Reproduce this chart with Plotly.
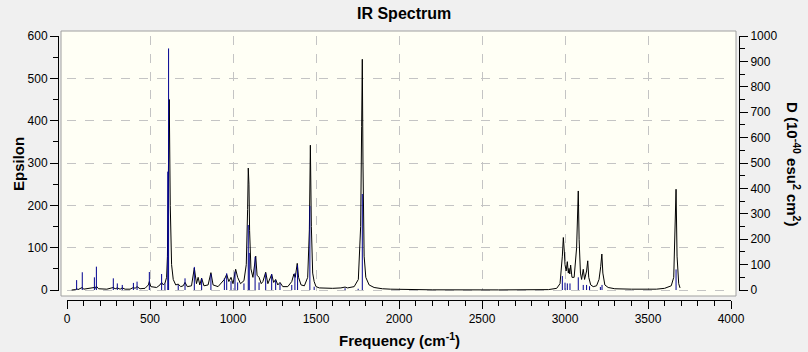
import plotly.graph_objects as go

# ---- Data ----
# Broadened spectrum curve (left axis, Epsilon)
curve_freq = [28, 50, 58, 66, 92, 100, 165, 170, 177, 190, 240, 279, 290, 303, 320, 333, 350, 380,
              400, 410, 422, 440, 470, 490, 496, 505, 540, 560, 570, 580, 590, 600, 605, 612, 616,
              622, 630, 640, 655, 670, 685, 700, 711, 725, 750, 767, 780, 790, 800, 811, 825, 850,
              867, 880, 910, 948, 962, 975, 988, 1000, 1016, 1028, 1045, 1066, 1080, 1088, 1092,
              1096, 1100, 1108, 1120, 1137, 1145, 1157, 1170, 1180, 1197, 1210, 1233, 1245, 1257,
              1270, 1283, 1300, 1330, 1354, 1367, 1375, 1387, 1395, 1410, 1430, 1450, 1460, 1466,
              1472, 1480, 1489, 1500, 1520, 1560, 1600, 1650, 1675, 1690, 1730, 1755, 1769, 1775,
              1779, 1783, 1790, 1800, 1820, 1850, 1900, 1950, 2000, 2100, 2200, 2600, 2900, 2950,
              2970, 2984, 2990, 2996, 3000, 3007, 3014, 3020, 3024, 3029, 3034, 3042, 3055, 3070,
              3076, 3080, 3085, 3093, 3100, 3110, 3118, 3124, 3130, 3137, 3143, 3155, 3170, 3190,
              3205, 3215, 3222, 3228, 3240, 3260, 3300, 3400, 3550, 3600, 3640, 3655, 3663, 3669,
              3675, 3685, 3693]
curve_eps = [0, 1, 4, 1, 6, 2, 6, 4, 9, 3, 2, 6, 3, 5, 2, 5, 2, 2,
             6, 4, 8, 3, 4, 12, 20, 8, 6, 12, 18, 12, 16, 30, 79, 340, 450,
             200, 60, 25, 12, 14, 8, 10, 18, 8, 10, 52, 15, 30, 12, 28, 10, 12,
             41, 12, 8, 25, 37, 20, 30, 15, 49, 30, 15, 22, 60, 190, 288,
             250, 140, 50, 30, 80, 35, 30, 15, 20, 42, 15, 37, 18, 25,
             12, 18, 8, 8, 20, 38, 30, 63, 30, 12, 10, 30, 142, 342,
             150, 40, 20, 8, 5, 4, 4, 5, 7, 5, 8, 25, 150, 386,
             545, 300, 80, 30, 12, 6, 3, 2, 1.5, 1, 0.5, 0.3, 1, 4,
             15, 80, 124, 90, 60, 45, 67, 40, 51, 38, 59, 30, 30, 100,
             187, 234, 120, 40, 25, 49, 25, 35, 45, 69, 30, 12, 8, 10,
             25, 55, 85, 40, 12, 6, 3, 2, 2, 4, 10, 30, 169, 238,
             80, 15, 5]

# Stick spectrum (right axis, D in 10^-40 esu^2 cm^2)
stick_freq = [58, 92, 165, 177, 279, 303, 333, 400, 422, 496, 570, 590, 607, 612, 670, 711, 767,
              811, 867, 948, 962, 988, 1012, 1028, 1066, 1092, 1098, 1133, 1157, 1197, 1233, 1257,
              1283, 1354, 1373, 1389, 1463, 1489, 1675, 1754, 1779, 2984, 3000, 3014, 3030, 3080,
              3110, 3130, 3148, 3213, 3223, 3669]
stick_D = [39, 70, 50, 92, 46, 26, 20, 28, 33, 71, 63, 26, 466, 951, 20, 46, 91,
           46, 63, 46, 66, 35, 72, 30, 26, 256, 146, 131, 30, 66, 63, 39,
           26, 20, 66, 98, 331, 13, 7, 5, 378, 55, 29, 26, 26, 50,
           20, 20, 15, 12, 20, 81]

x_ticks = [0, 500, 1000, 1500, 2000, 2500, 3000, 3500, 4000]
left_ticks = [0, 100, 200, 300, 400, 500, 600]
right_ticks = [0, 100, 200, 300, 400, 500, 600, 700, 800, 900, 1000]

# ---- Build figure ----
W, H = 808, 352
pl, pr, pt, pb = 58, 739, 31, 300          # paper box in pixels
fx = lambda px: (px - pl) / (pr - pl)
fy = lambda py: (pb - py) / (pb - pt)

sx, sy = [], []
for f, d in zip(stick_freq, stick_D):
    sx += [f, f, None]
    sy += [0, d, None]

fig = go.Figure()
fig.add_trace(go.Scatter(x=curve_freq, y=curve_eps, mode="lines",
                         line=dict(color="black", width=1), yaxis="y", showlegend=False,
                         hoverinfo="skip"))
fig.add_trace(go.Scatter(x=sx, y=sy, mode="lines",
                         line=dict(color="#000090", width=1), yaxis="y2", showlegend=False,
                         hoverinfo="skip"))

font = "Liberation Sans, Arial, sans-serif"
tick_common = dict(ticks="outside", tickcolor="black", tickwidth=1, ticklen=8,
                   showline=True, linecolor="black", linewidth=1,
                   tickfont=dict(family=font, size=12, color="black"),
                   zeroline=False)
grid = dict(showgrid=True, gridcolor="#C4C4C4", gridwidth=1, griddash="dash")

fig.update_layout(
    width=W, height=H,
    margin=dict(l=pl, r=W - pr, t=pt, b=H - pb, pad=0),
    paper_bgcolor="#F0F0F0",
    plot_bgcolor="rgba(0,0,0,0)",
    showlegend=False,
    xaxis=dict(range=[0, 4000], domain=[fx(67), fx(731)], anchor="free", position=0,
               tickvals=x_ticks, ticktext=[str(v) for v in x_ticks],
               minor=dict(dtick=100, ticklen=5, ticks="outside", tickcolor="black",
                          showgrid=False),
               **tick_common, **grid),
    yaxis=dict(range=[-3, 600], domain=[fy(291.3), fy(36)], anchor="free", position=0,
               tickvals=left_ticks, ticktext=[str(v) for v in left_ticks],
               minor=dict(dtick=50, ticklen=5, ticks="outside", tickcolor="black",
                          showgrid=False),
               **tick_common, **grid),
    yaxis2=dict(range=[-5, 1000], overlaying="y", side="right", anchor="free", position=1,
                tickvals=right_ticks, ticktext=[str(v) for v in right_ticks],
                minor=dict(dtick=50, ticklen=5, ticks="outside", tickcolor="black",
                           showgrid=False),
                showgrid=False, **tick_common),
    shapes=[dict(type="rect", xref="paper", yref="paper",
                 x0=fx(61), x1=fx(736), y0=fy(296), y1=fy(31),
                 fillcolor="#FFFFF5", line=dict(color="#A0A0A0", width=1), layer="below")],
    annotations=[
        dict(text="<b>IR Spectrum</b>", xref="paper", yref="paper",
             x=fx(404), y=fy(13), showarrow=False, xanchor="center", yanchor="middle",
             font=dict(family=font, size=16, color="black")),
        dict(text="<b>Epsilon</b>", xref="paper", yref="paper",
             x=fx(18), y=fy(164), showarrow=False, xanchor="center", yanchor="middle",
             textangle=-90, font=dict(family=font, size=15, color="black")),
        dict(text="<b>Frequency (cm<sup>-1</sup>)</b>", xref="paper", yref="paper",
             x=fx(399), y=fy(339), showarrow=False, xanchor="center", yanchor="middle",
             font=dict(family=font, size=15, color="black")),
        dict(text="<b>D (10<sup>-40</sup> esu<sup>2</sup> cm<sup>2</sup>)</b>",
             xref="paper", yref="paper",
             x=fx(794), y=fy(164), showarrow=False, xanchor="center", yanchor="middle",
             textangle=90, font=dict(family=font, size=15, color="black")),
    ],
)

fig.write_html("out.html")
